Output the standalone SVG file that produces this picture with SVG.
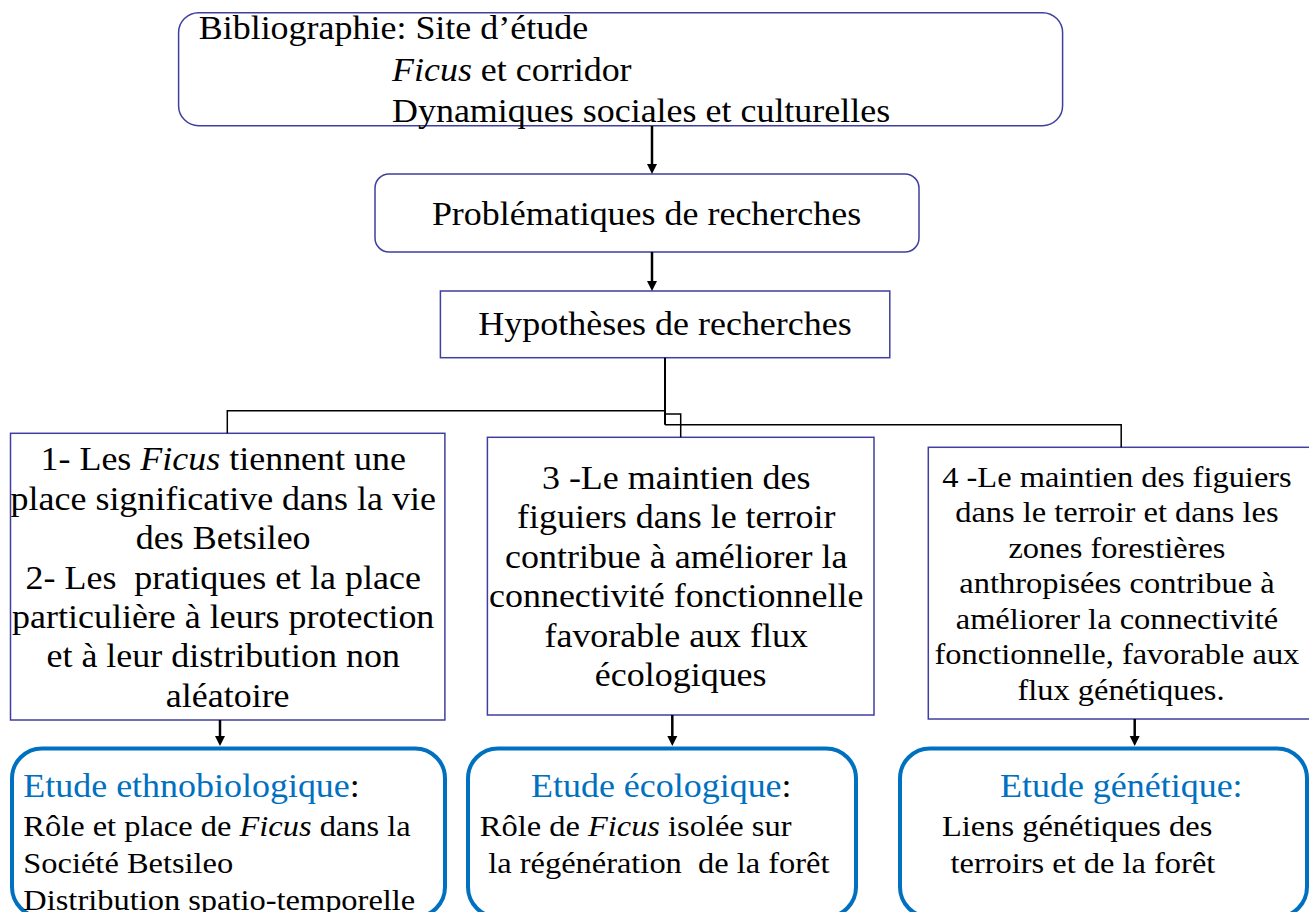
<svg xmlns="http://www.w3.org/2000/svg" width="1309" height="912" viewBox="0 0 1309 912">
<style>
.n{fill:#fff;stroke:#3F3F9F;stroke-width:1.5}
.b{fill:#fff;stroke:#0070C0;stroke-width:4}
.t{font-family:"Liberation Serif","Times New Roman",serif;font-size:33px;fill:#000}
.m{text-anchor:middle}
.s{font-size:29.5px}
.h{fill:#0070C0}
.i{font-style:italic}
.c{fill:none;stroke:#000;stroke-width:1.5}
.k{fill:none;stroke:#000;stroke-width:2}
.a{fill:none;stroke:#000;stroke-width:2.5;marker-end:url(#ah)}
</style>
<defs>
<marker id="ah" markerUnits="userSpaceOnUse" viewBox="0 0 10 10" refX="1" refY="5" markerWidth="10" markerHeight="11" orient="auto">
<path d="M0,0L10,5L0,10z" fill="#000"/>
</marker>
</defs>
<rect width="1309" height="912" fill="#fff"/>

<g id="bibliographie">
<rect class="n" x="178.6" y="12.7" width="884" height="113" rx="20"/>
<text class="t" transform="matrix(1.09,0,0,1,198.7,0)" x="0" y="39.3">Bibliographie: Site d’étude</text>
<text class="t" transform="matrix(1.09,0,0,1,392,0)" x="0" y="81"><tspan class="i">Ficus</tspan> et corridor</text>
<text class="t" transform="matrix(1.09,0,0,1,392,0)" x="0" y="121.7">Dynamiques sociales et culturelles</text>
</g>

<g id="problematiques">
<rect class="n" x="375" y="174" width="544" height="78" rx="14"/>
<text class="t m" transform="matrix(1.09,0,0,1,646.5,0)" x="0" y="225">Problématiques de recherches</text>
</g>

<g id="hypotheses">
<rect class="n" x="440.4" y="291" width="449.4" height="66.7"/>
<text class="t m" transform="matrix(1.09,0,0,1,665,0)" x="0" y="335">Hypothèses de recherches</text>
</g>

<g id="hyp12">
<rect class="n" x="10.5" y="433.3" width="434.4" height="286.7"/>
<text class="t m" transform="matrix(1.09,0,0,1,227.7,0)">
<tspan x="0" y="470.5">1- Les <tspan class="i">Ficus</tspan> tiennent une</tspan>
<tspan x="0" y="509.9">place significative dans la vie</tspan>
<tspan x="0" y="549.3">des Betsileo</tspan>
<tspan x="0" y="588.7">2- Les&#160; pratiques et la place</tspan>
<tspan x="0" y="628.1">particulière à leurs protection</tspan>
<tspan x="0" y="667.5">et à leur distribution non</tspan>
<tspan x="0" y="706.9">aléatoire</tspan>
</text>
</g>

<g id="hyp3">
<rect class="n" x="487.4" y="437.3" width="386.6" height="277.7"/>
<text class="t m" transform="matrix(1.09,0,0,1,680.7,0)">
<tspan x="0" y="488.7">3 -Le maintien des</tspan>
<tspan x="0" y="528.2">figuiers dans le terroir</tspan>
<tspan x="0" y="567.7">contribue à améliorer la</tspan>
<tspan x="0" y="607.2">connectivité fonctionnelle</tspan>
<tspan x="0" y="646.7">favorable aux flux</tspan>
<tspan x="0" y="686.2">écologiques</tspan>
</text>
</g>

<g id="hyp4">
<rect class="n" x="928.3" y="447.3" width="386" height="271.7"/>
<text class="t s m" transform="matrix(1.1,0,0,1,1121,0)">
<tspan x="0" y="487">4 -Le maintien des figuiers</tspan>
<tspan x="0" y="522.5">dans le terroir et dans les</tspan>
<tspan x="0" y="558">zones forestières</tspan>
<tspan x="0" y="593.4">anthropisées contribue à</tspan>
<tspan x="0" y="628.9">améliorer la connectivité</tspan>
<tspan x="0" y="664.4">fonctionnelle, favorable aux</tspan>
<tspan x="0" y="699.9">flux génétiques.</tspan>
</text>
</g>

<g id="etude-ethno">
<rect class="b" x="12" y="748.5" width="433" height="168.5" rx="30"/>
<text class="t" transform="matrix(1.09,0,0,1,23.3,0)" x="0" y="797"><tspan class="h">Etude ethnobiologique</tspan>:</text>
<text class="t s" transform="matrix(1.1,0,0,1,23.3,0)" x="0" y="836">Rôle et place de <tspan class="i">Ficus</tspan> dans la</text>
<text class="t s" transform="matrix(1.1,0,0,1,23.3,0)" x="0" y="873">Société Betsileo</text>
<text class="t s" transform="matrix(1.1,0,0,1,23.3,0)" x="0" y="910">Distribution spatio-temporelle</text>
</g>

<g id="etude-eco">
<rect class="b" x="468" y="748.5" width="388" height="168.5" rx="30"/>
<text class="t" transform="matrix(1.09,0,0,1,531,0)" x="0" y="797"><tspan class="h">Etude écologique</tspan>:</text>
<text class="t s" transform="matrix(1.1,0,0,1,479.8,0)" x="0" y="836">Rôle de <tspan class="i">Ficus</tspan> isolée sur</text>
<text class="t s" transform="matrix(1.1,0,0,1,488.2,0)" x="0" y="873">la régénération&#160; de la forêt</text>
</g>

<g id="etude-gen">
<rect class="b" x="900" y="748.5" width="407" height="168.5" rx="30"/>
<text class="t h" transform="matrix(1.09,0,0,1,1000,0)" x="0" y="797">Etude génétique:</text>
<text class="t s" transform="matrix(1.1,0,0,1,942,0)" x="0" y="836">Liens génétiques des</text>
<text class="t s" transform="matrix(1.1,0,0,1,950.5,0)" x="0" y="873">terroirs et de la forêt</text>
</g>

<g id="connectors">
<line class="a" x1="652" y1="126" x2="652" y2="165"/>
<line class="a" x1="652" y1="252" x2="652" y2="282"/>
<line class="k" x1="665" y1="357.7" x2="665" y2="424.7"/>
<polyline class="c" points="665,410.7 227.3,410.7 227.3,433.3"/>
<polyline class="c" points="665,414 680.7,414 680.7,437.3"/>
<polyline class="c" points="665,424.7 1121.2,424.7 1121.2,447.3"/>
<line class="a" x1="220" y1="720" x2="220" y2="737"/>
<line class="a" x1="672.3" y1="715" x2="672.3" y2="737"/>
<line class="a" x1="1134.7" y1="719" x2="1134.7" y2="737"/>
</g>
</svg>
